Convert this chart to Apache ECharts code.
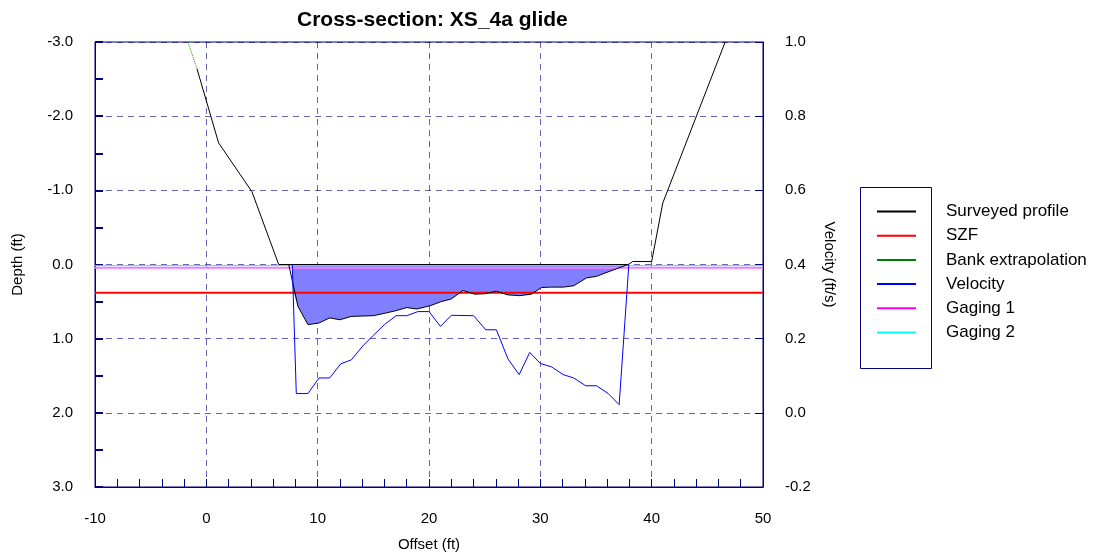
<!DOCTYPE html>
<html><head><meta charset="utf-8">
<script src="https://cdn.jsdelivr.net/npm/echarts@6/dist/echarts.min.js"></script>
<style>html,body{margin:0;padding:0;background:#fff}#c{width:1095px;height:558px}</style>
</head><body><div id="c"></div>
<script>
// ---- data ----
const titleText = 'Cross-section: XS_4a glide';
const profileX = [-0.84, 1.1, 4.1, 6.5, 7.4, 8.23, 9.13, 10.1, 11.08, 12.0, 13.0, 15.0, 16.1, 17.1, 18.0, 18.9, 20.1, 21.1, 22.0, 23.05, 24.1, 25.0, 26.05, 27.1, 28.15, 29.2, 30.1, 31.0, 32.05, 33.0, 34.15, 35.05, 35.9, 36.8, 37.9, 38.3, 40.0, 41.0, 46.6];
const profileDepth = [-2.64, -1.64, -0.98, 0.0, 0.0, 0.565, 0.81, 0.79, 0.72, 0.745, 0.70, 0.69, 0.655, 0.62, 0.58, 0.60, 0.556, 0.50, 0.465, 0.35, 0.40, 0.395, 0.36, 0.41, 0.42, 0.40, 0.31, 0.305, 0.305, 0.287, 0.18, 0.16, 0.11, 0.06, 0.0, -0.04, -0.04, -0.83, -3.0];
const bankX = [-1.65, -0.84];
const bankDepth = [-3.0, -2.64];
const wetStartX = 7.75, wetStartDepth = 0.33, wetEndX = 37.9;
const surfaceX = [6.5, 37.9];
const surfaceDepth = [0, 0];
const szfDepth = 0.38;
const gaging1Depth = 0.045;
const gaging2Depth = 0.015;
const velX = [7.72, 8.08, 9.13, 10.12, 11.08, 12.07, 13.03, 14.07, 14.97, 16.0, 17.05, 18.0, 19.0, 20.0, 21.03, 22.0, 24.0, 25.1, 26.05, 27.1, 28.1, 29.05, 30.0, 31.0, 32.05, 33.0, 34.08, 35.05, 36.1, 37.08, 37.95];
const velV = [0.4, 0.052, 0.052, 0.094, 0.094, 0.132, 0.143, 0.181, 0.208, 0.238, 0.262, 0.262, 0.273, 0.273, 0.233, 0.263, 0.262, 0.224, 0.224, 0.145, 0.103, 0.163, 0.133, 0.124, 0.103, 0.094, 0.073, 0.073, 0.052, 0.022, 0.4];
const legendNames = ['Surveyed profile', 'SZF', 'Bank extrapolation', 'Velocity', 'Gaging 1', 'Gaging 2'];

const zip = (xs, ys) => xs.map((x, i) => [x, ys[i]]);
const fillData = [[wetStartX, wetStartDepth]].concat(zip(profileX, profileDepth).filter(p => p[0] > wetStartX && p[0] <= wetEndX));

const FONT = "'Liberation Sans', Arial, sans-serif";
const NAVY = '#000080';
const GRID = 'rgba(0,0,128,0.6)';

const chart = echarts.init(document.getElementById('c'), null, {renderer: 'canvas'});
chart.setOption({
  animation: false,
  backgroundColor: '#fff',
  textStyle: {fontFamily: FONT, color: '#000'},
  title: {text: titleText, left: 292, top: 5, textStyle: {fontFamily: FONT, fontSize: 21, fontWeight: 'bold', color: '#000'}},
  grid: {left: 95, right: 332, top: 42, bottom: 71, show: true, borderColor: NAVY, borderWidth: 1, backgroundColor: 'transparent'},
  legend: {
    orient: 'vertical', left: 877, top: 203, padding: 0, itemGap: 7.2,
    itemWidth: 39, itemHeight: 2, icon: 'rect',
    data: legendNames,
    textStyle: {fontFamily: FONT, fontSize: 17, color: '#000', lineHeight: 17, padding: [0, 0, 0, 25]}
  },
  graphic: [{type: 'rect', shape: {x: 860.5, y: 187.5, width: 71, height: 181}, style: {fill: 'none', stroke: NAVY, lineWidth: 1}, z: 1}],
  xAxis: {
    type: 'value', min: -10, max: 50, interval: 10,
    name: 'Offset (ft)', nameLocation: 'middle', nameGap: 50,
    nameTextStyle: {fontFamily: FONT, fontSize: 15, color: '#000'},
    axisLine: {show: true, onZero: false, lineStyle: {color: NAVY, width: 1}},
    axisTick: {show: true, inside: true, length: 8, lineStyle: {color: NAVY, width: 1}},
    minorTick: {show: true, splitNumber: 5, length: 8, lineStyle: {color: NAVY, width: 1}},
    axisLabel: {fontFamily: FONT, fontSize: 15, color: '#000', margin: 24, formatter: v => String(Math.round(v))},
    splitLine: {show: true, lineStyle: {color: GRID, type: [6, 5], width: 1}}
  },
  yAxis: [{
    type: 'value', min: -3, max: 3, interval: 1, inverse: true,
    name: 'Depth (ft)', nameLocation: 'middle', nameGap: 70, nameRotate: 90,
    nameTextStyle: {fontFamily: FONT, fontSize: 15, color: '#000'},
    axisLine: {show: true, onZero: false, lineStyle: {color: NAVY, width: 1}},
    axisTick: {show: true, inside: true, length: 8, lineStyle: {color: NAVY, width: 2}},
    minorTick: {show: true, splitNumber: 2, length: 8, lineStyle: {color: NAVY, width: 2}},
    axisLabel: {fontFamily: FONT, fontSize: 15, color: '#000', margin: 22, formatter: v => v.toFixed(1)},
    splitLine: {show: true, lineStyle: {color: GRID, type: [6, 5], width: 1}}
  }, {
    type: 'value', min: -0.2, max: 1.0, interval: 0.2, position: 'right',
    name: 'Velocity (ft/s)', nameLocation: 'middle', nameGap: 56, nameRotate: -90,
    nameTextStyle: {fontFamily: FONT, fontSize: 15, color: '#000'},
    axisLine: {show: true, onZero: false, lineStyle: {color: NAVY, width: 1}},
    axisTick: {show: true, inside: true, length: 8, lineStyle: {color: NAVY, width: 1}},
    axisLabel: {fontFamily: FONT, fontSize: 15, color: '#000', margin: 22, formatter: v => v.toFixed(1)},
    splitLine: {show: false}
  }],
  series: [
    {name: 'wetted area', type: 'line', data: fillData, symbol: 'none', lineStyle: {width: 0}, areaStyle: {color: '#8080FF', opacity: 1, origin: 0}, z: 2, silent: true},
    {name: 'water surface', type: 'line', data: zip(surfaceX, surfaceDepth), symbol: 'none', lineStyle: {color: '#000', width: 1}, z: 3},
    {name: 'Surveyed profile', type: 'line', data: zip(profileX, profileDepth), symbol: 'none', color: '#000', lineStyle: {color: '#000', width: 1}, z: 5},
    {name: 'SZF', type: 'line', data: [[-10, szfDepth], [50, szfDepth]], symbol: 'none', color: '#FF0000', lineStyle: {color: '#FF0000', width: 2}, z: 4},
    {name: 'Bank extrapolation', type: 'line', data: zip(bankX, bankDepth), symbol: 'none', color: '#008000', lineStyle: {color: '#00A000', width: 1, type: 'dotted'}, z: 5},
    {name: 'Velocity', type: 'line', yAxisIndex: 1, data: zip(velX, velV), symbol: 'none', color: '#0000FF', lineStyle: {color: '#0000FF', width: 1}, z: 6},
    {name: 'Gaging 1', type: 'line', data: [[-10, gaging1Depth], [50, gaging1Depth]], symbol: 'none', color: '#FF00FF', lineStyle: {color: '#FF77FF', width: 2}, z: 4},
    {name: 'Gaging 2', type: 'line', data: [[-10, gaging2Depth], [50, gaging2Depth]], symbol: 'none', color: '#00FFFF', lineStyle: {color: '#00FFFF', width: 1}, z: 4}
  ]
});
</script>
</body></html>
